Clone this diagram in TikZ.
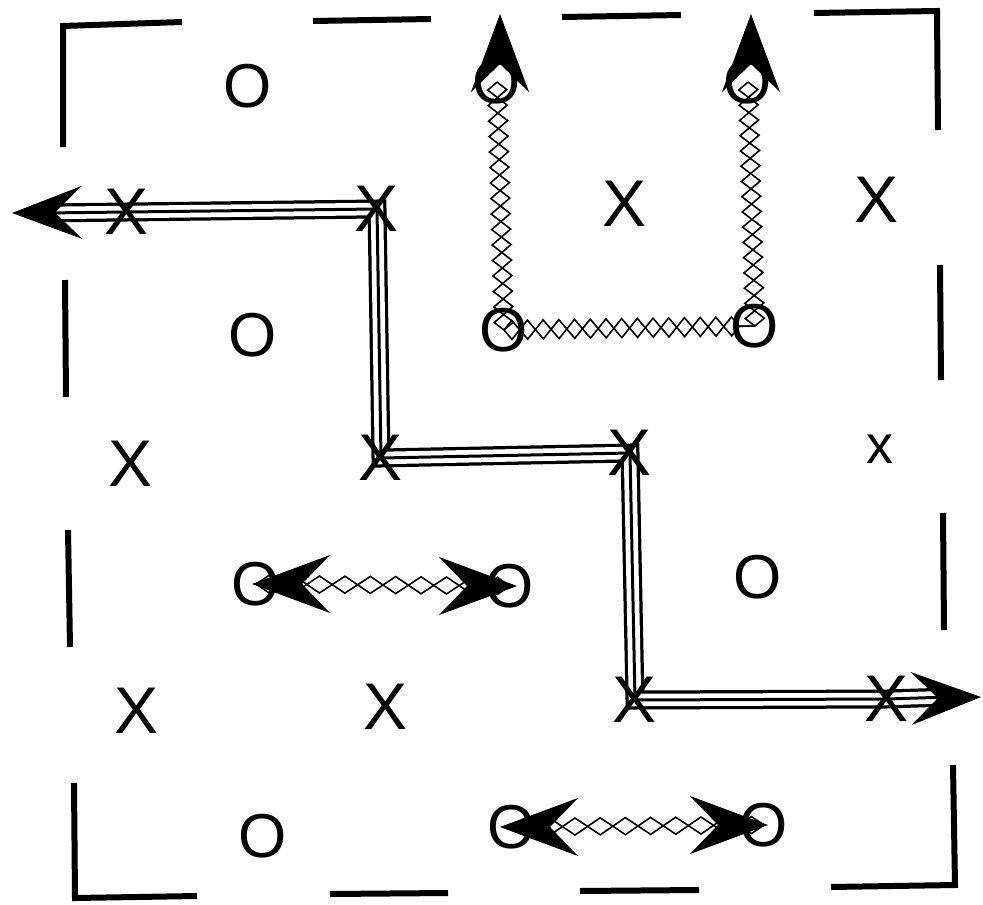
\documentclass[tikz,border=0pt]{standalone}
\usepackage{fontspec}
\setmainfont{Liberation Sans}
\usetikzlibrary{arrows.meta,decorations.pathmorphing,calc}
\begin{document}
\begin{tikzpicture}[x=1pt,y=-1pt,
  lettX/.style={inner sep=0pt,font=\fontsize{66}{66}\selectfont},
  lettO/.style={inner sep=0pt,font=\fontsize{62}{62}\selectfont},
  lettx/.style={inner sep=0pt,font=\fontsize{54}{54}\selectfont},
  border/.style={line width=6pt,line cap=butt,line join=miter},
  triple/.style={line width=19pt,line join=miter,
    postaction={draw=white,line width=12.5pt},
    postaction={draw=black,line width=3pt}},
  bigtip/.style={-{Stealth[length=70pt,width=53pt,inset=27pt]},line width=1pt},
  chaintip/.style={-{Stealth[length=78pt,width=58pt,inset=28pt]},line width=1pt},
  zz/.style={draw,line width=1.6pt,decorate,decoration={zigzag,segment length=#1,amplitude=9.5pt}},
  zm/.style={draw,line width=1.6pt,decorate,decoration={zigzag,segment length=#1,amplitude=9.5pt,mirror}},
  sz/.style={draw,line width=1.6pt,decorate,decoration={zigzag,segment length=#1,amplitude=8.5pt}},
  sm/.style={draw,line width=1.6pt,decorate,decoration={zigzag,segment length=#1,amplitude=8.5pt,mirror}}
]
\useasboundingbox (0,0) rectangle (983,905);

% border (hand drawn dashed square)
\draw[border] (63,147) -- (63,26) -- (182,22);
\draw[border] (313,21) -- (431,19);
\draw[border] (562,17) -- (681,15);
\draw[border] (814,13) -- (937,11) -- (938,130);
\draw[border] (940,265) -- (941,380);
\draw[border] (943,513) -- (944,630);
\draw[border] (953,765) -- (955,885) -- (831,887);
\draw[border] (699,890) -- (580,891);
\draw[border] (448,893) -- (330,894);
\draw[border] (197,896) -- (75,898) -- (74,783);
\draw[border] (70,647) -- (68,530);
\draw[border] (66,397) -- (65,280);

% path X positions
\coordinate (p1) at (127,212);
\coordinate (p2) at (377,209);
\coordinate (p3) at (381,458);
\coordinate (p4) at (630,453);
\coordinate (p5) at (635,700);
\coordinate (p6) at (887,699);
\coordinate (tipL) at (12,213);
\coordinate (nL) at (44,213);
\coordinate (tipR) at (981,697);
\coordinate (nR) at (949,697);

% triple line path
\draw[triple] (nL) -- (p1) -- (p2) -- (p3) -- (p4) -- (p5) -- (p6) -- (nR);
\draw[bigtip] (p1) -- (tipL);
\draw[bigtip] (p6) -- (tipR);

% chain circles
\coordinate (a1) at (497,82);
\coordinate (a2) at (504,330);
\coordinate (b1) at (748,82);
\coordinate (b2) at (755,326);
\coordinate (c1) at (256,584);
\coordinate (c2) at (510,586);
\coordinate (d1) at (512,827);
\coordinate (d2) at (764,825);

% diamond chains
\draw[zz=31pt] (a2) -- (a1);
\draw[zm=31pt] (a2) -- (a1);
\draw[zz=30.5pt] (b2) -- (b1);
\draw[zm=30.5pt] (b2) -- (b1);
\draw[zz=31.4pt] (a2) -- (b2);
\draw[zm=31.4pt] (a2) -- (b2);
\draw[sz=50.8pt] (c1) -- (c2);
\draw[sm=50.8pt] (c1) -- (c2);
\draw[sz=50.4pt] (d1) -- (d2);
\draw[sm=50.4pt] (d1) -- (d2);

% chain arrowheads
\coordinate (ta) at (500,14);  \coordinate (na) at (500,64);
\coordinate (tb) at (751,14);  \coordinate (nb) at (751,64);
\coordinate (tc1) at (252,584); \coordinate (nc1) at (302,584);
\coordinate (tc2) at (517,586); \coordinate (nc2) at (467,586);
\coordinate (td1) at (500,827); \coordinate (nd1) at (550,827);
\coordinate (td2) at (768,825); \coordinate (nd2) at (718,825);
\draw[chaintip] (na) -- (ta);
\draw[chaintip] (nb) -- (tb);
\draw[chaintip] (nc1) -- (tc1);
\draw[chaintip] (nc2) -- (tc2);
\draw[chaintip] (nd1) -- (td1);
\draw[chaintip] (nd2) -- (td2);

% circles at chain ends
\node[lettO] (A1) at (a1) {O};
\node[lettO] (A2) at (a2) {O};
\node[lettO] (B1) at (b1) {O};
\node[lettO] (B2) at (b2) {O};
\node[lettO] (C1) at (c1) {O};
\node[lettO] (C2) at (c2) {O};
\node[lettO] (D1) at (d1) {O};
\node[lettO] (D2) at (d2) {O};

% Xs on the path
\node[lettX] (X1) at (p1) {X};
\node[lettX] (X2) at (p2) {X};
\node[lettX] (X3) at (p3) {X};
\node[lettX] (X4) at (p4) {X};
\node[lettX] (X5) at (p5) {X};
\node[lettX] (X6) at (p6) {X};

% standalone players
\node[lettO] (o1) at (248,86) {O};
\node[lettO] (o2) at (253,335) {O};
\node[lettO] (o3) at (758,577) {O};
\node[lettO] (o4) at (263,836) {O};
\node[lettX] (x1) at (625,204) {X};
\node[lettX] (x2) at (877,200) {X};
\node[lettX] (x3) at (131,464) {X};
\node[lettX] (x4) at (137,711) {X};
\node[lettX] (x5) at (386,707) {X};
\node[lettx] (x6) at (880,449) {x};
\end{tikzpicture}
\end{document}
